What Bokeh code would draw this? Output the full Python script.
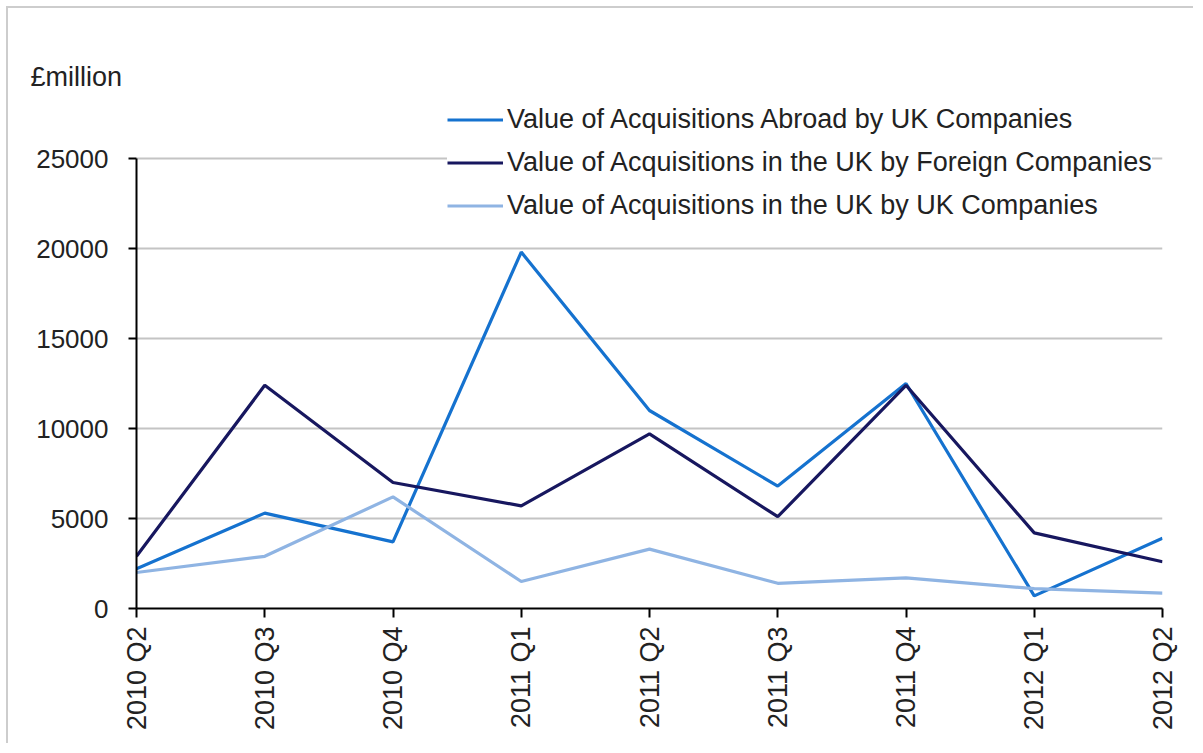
import math
from bokeh.plotting import figure
from bokeh.models import Range1d, FixedTicker, Legend
from bokeh.embed import file_html
from bokeh.resources import INLINE

quarters = ["2010 Q2", "2010 Q3", "2010 Q4", "2011 Q1", "2011 Q2",
            "2011 Q3", "2011 Q4", "2012 Q1", "2012 Q2"]
abroad_by_uk = [2200, 5300, 3700, 19800, 11000, 6800, 12500, 700, 3900]
uk_by_foreign = [2900, 12400, 7000, 5700, 9700, 5100, 12400, 4200, 2600]
uk_by_uk = [2000, 2900, 6200, 1500, 3300, 1400, 1700, 1100, 850]
y_ticks = [0, 5000, 10000, 15000, 20000, 25000]

series_names = ["Value of Acquisitions Abroad by UK Companies",
                "Value of Acquisitions in the UK by Foreign Companies",
                "Value of Acquisitions in the UK by UK Companies"]
series_colors = ["#1572CF", "#17175F", "#8FB4E3"]

FONT = "Liberation Sans"
x = list(range(len(quarters)))

# frame spans page y 96..608; 25000 sits at y=158 (18 px per 1000)
p = figure(width=1187, height=737, output_backend="svg", toolbar_location=None,
           x_range=Range1d(0, len(quarters) - 1), y_range=Range1d(0, 512 / 0.018),
           min_border_left=128, min_border_top=88, min_border_right=33,
           min_border_bottom=137)
p.styles = {"margin-left": "6px", "margin-top": "6px",
            "border-left": "2px solid #cdcdcd", "border-top": "2px solid #cdcdcd"}
p.outline_line_color = None
p.background_fill_color = "white"
p.border_fill_color = "white"

p.title.text = "£million"
p.title.align = "left"
p.title.offset = -106
p.title.standoff = 10
p.title.text_font = FONT
p.title.text_font_size = "27px"
p.title.text_font_style = "normal"
p.title.text_color = "#222222"

renderers = []
for vals, name, col in zip([abroad_by_uk, uk_by_foreign, uk_by_uk], series_names, series_colors):
    r = p.line(x, vals, line_color=col, line_width=3.2)
    renderers.append((name, [r]))

# axes
p.xaxis.ticker = FixedTicker(ticks=x)
p.xaxis.major_label_overrides = {i: q for i, q in enumerate(quarters)}
p.xaxis.major_label_orientation = math.pi / 2
p.xaxis.major_label_text_font = FONT
p.xaxis.major_label_text_font_size = "27px"
p.xaxis.major_label_text_color = "#222222"
p.xaxis.major_label_standoff = 9
p.xaxis.major_tick_out = 9
p.xaxis.major_tick_in = 0
p.xaxis.minor_tick_line_color = None
p.xaxis.axis_line_color = "black"
p.xaxis.axis_line_width = 2
p.xaxis.major_tick_line_color = "black"
p.xaxis.major_tick_line_width = 2

p.yaxis.ticker = FixedTicker(ticks=y_ticks)
p.yaxis.bounds = (y_ticks[0], y_ticks[-1])
p.yaxis.major_label_text_font = FONT
p.yaxis.major_label_text_font_size = "26px"
p.yaxis.major_label_text_color = "#222222"
p.yaxis.major_label_standoff = 20
p.yaxis.major_tick_out = 8
p.yaxis.major_tick_in = 0
p.yaxis.minor_tick_line_color = None
p.yaxis.axis_line_color = "black"
p.yaxis.axis_line_width = 2
p.yaxis.major_tick_line_color = "black"
p.yaxis.major_tick_line_width = 2

p.xgrid.grid_line_color = None
p.ygrid.ticker = FixedTicker(ticks=y_ticks)
p.ygrid.grid_line_color = "#C4C4C4"
p.ygrid.grid_line_width = 2

legend = Legend(items=renderers, location=(311, 381))
legend.label_text_font = FONT
legend.label_text_font_size = "27px"
legend.label_text_color = "#222222"
legend.glyph_width = 56
legend.glyph_height = 43
legend.label_height = 43
legend.label_standoff = 4
legend.spacing = 0
legend.padding = 0
legend.margin = 0
legend.border_line_color = None
legend.background_fill_color = "white"
legend.background_fill_alpha = 1.0
p.add_layout(legend, "center")

open("out.html", "w").write(file_html(p, INLINE))
